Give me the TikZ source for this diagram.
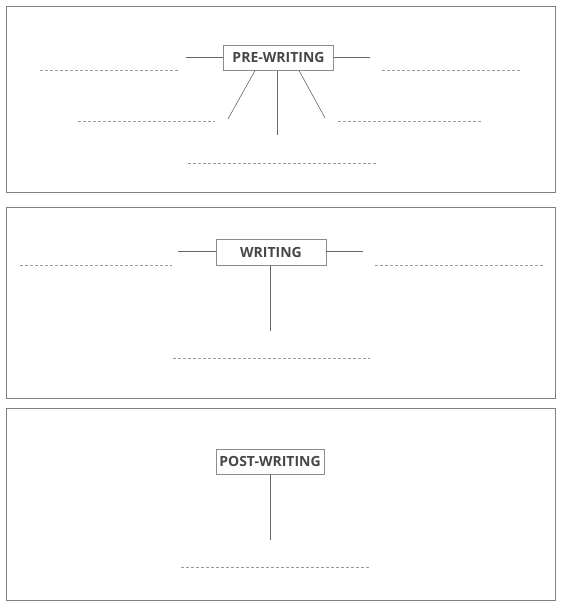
\documentclass[tikz,border=0pt]{standalone}
\usepackage{fontspec}
\setmainfont{Open Sans}
\begin{document}
\begin{tikzpicture}[x=1pt,y=-1pt,
  panel/.style={draw=black!50, line width=0.8pt},
  stage/.style={draw=black!45, line width=0.7pt, fill=white, inner sep=0pt, minimum height=24pt, font=\bfseries\fontsize{14}{16}\selectfont, text=black!72},
  conn/.style={draw=black!60, line width=0.6pt},
  blank/.style={draw=black!40, line width=0.5pt, dash pattern=on 3pt off 2pt}]
\useasboundingbox (0,0) rectangle (561,607);
% panels
\draw[panel] (6,6) rectangle (555,192);
\draw[panel] (6,207) rectangle (555,398);
\draw[panel] (6,408) rectangle (555,600);
% PRE-WRITING
\node[stage, minimum width=110pt, minimum height=25pt] (pre) at (278.5,58) {PRE-WRITING};
\coordinate (preL) at (186,57);
\coordinate (preR) at (370,57);
\coordinate (preDL) at (228,119);
\coordinate (preDC) at (277,135);
\coordinate (preDR) at (325,118);
\draw[conn] (pre.west |- preL) -- (preL);
\draw[conn] (pre.east |- preR) -- (preR);
\draw[conn] (255,70.5) -- (preDL);
\draw[conn] (preDC |- pre.south) -- (preDC);
\draw[conn] (299,70.5) -- (preDR);
\draw[blank] (40,70) -- (179,70);
\draw[blank] (382,70) -- (522,70);
\draw[blank] (78,121) -- (215,121);
\draw[blank] (338,121) -- (481,121);
\draw[blank] (188,163) -- (377,163);
% WRITING
\node[stage, minimum width=110pt, minimum height=26pt] (wr) at (271,252) {WRITING};
\coordinate (wrL) at (178,251);
\coordinate (wrR) at (363,251);
\coordinate (wrD) at (270,331);
\draw[conn] (wr.west |- wrL) -- (wrL);
\draw[conn] (wr.east |- wrR) -- (wrR);
\draw[conn] (wrD |- wr.south) -- (wrD);
\draw[blank] (20,265) -- (172,265);
\draw[blank] (375,265) -- (543,265);
\draw[blank] (173,358) -- (370,358);
% POST-WRITING
\node[stage, minimum width=108pt, minimum height=25pt] (post) at (270,461.5) {POST-WRITING};
\coordinate (postD) at (270,540);
\draw[conn] (postD |- post.south) -- (postD);
\draw[blank] (181,567) -- (370,567);
\end{tikzpicture}
\end{document}
